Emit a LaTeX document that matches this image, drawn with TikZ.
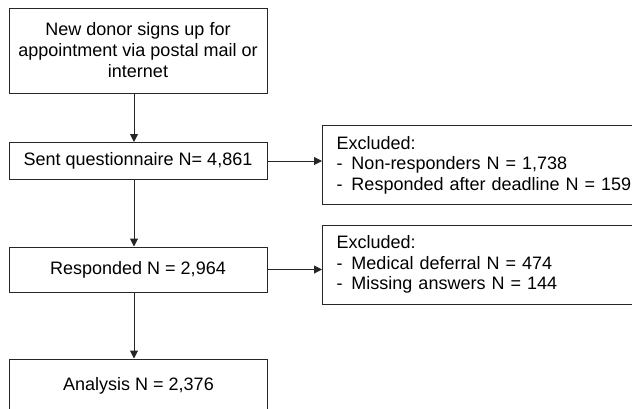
\documentclass[tikz,border=0pt]{standalone}
\usepackage{fontspec}
\setmainfont{Liberation Sans}
\usetikzlibrary{arrows.meta}
\begin{document}
\begin{tikzpicture}[x=1pt,y=-1pt,
  box/.style={draw=black!85, line width=1pt, minimum width=258pt, inner sep=0pt, align=center, font=\fontsize{18}{21}\selectfont},
  exbox/.style={draw=black!85, line width=1pt, anchor=north west, minimum height=79pt, text width=300pt, inner xsep=14pt, inner ysep=0pt, align=left, font=\fontsize{18}{20.5}\selectfont},
  arr/.style={line width=1pt, draw=black!85, -{Triangle[length=8pt,width=8pt]}}]
\useasboundingbox (0,0) rectangle (632,408);
\clip (0,0) rectangle (632,408);
\node[box, minimum height=85pt] (b1) at (138,50.5) {New donor signs up for\\appointment via postal mail or\\internet};
\node[box, minimum height=37pt] (b2) at (138,161) {Sent questionnaire N= 4,861};
\node[box, minimum height=45pt] (b3) at (138,269.5) {Responded N = 2,964};
\node[box, minimum height=54pt] (b4) at (138.5,386) {Analysis N = 2,376};
\node[exbox] (e1) at (322,125) {Excluded:\\\makebox[15pt][l]{-}Non-responders N = 1,738\\\makebox[15pt][l]{-}Responded after deadline N = 159};
\node[exbox] (e2) at (322,224.5) {Excluded:\\\makebox[15pt][l]{-}Medical deferral N = 474\\\makebox[15pt][l]{-}Missing answers N = 144};
\draw[arr] ([xshift=-4pt]b1.south) -- ([xshift=-4pt]b2.north);
\draw[arr] ([xshift=-4pt]b2.south) -- ([xshift=-4pt]b3.north);
\draw[arr] ([xshift=-4pt]b3.south) -- ([xshift=-4.5pt]b4.north);
\draw[arr] (b2.east) -- (b2.east -| e1.west);
\draw[arr] (b3.east) -- (b3.east -| e2.west);
\end{tikzpicture}
\end{document}
